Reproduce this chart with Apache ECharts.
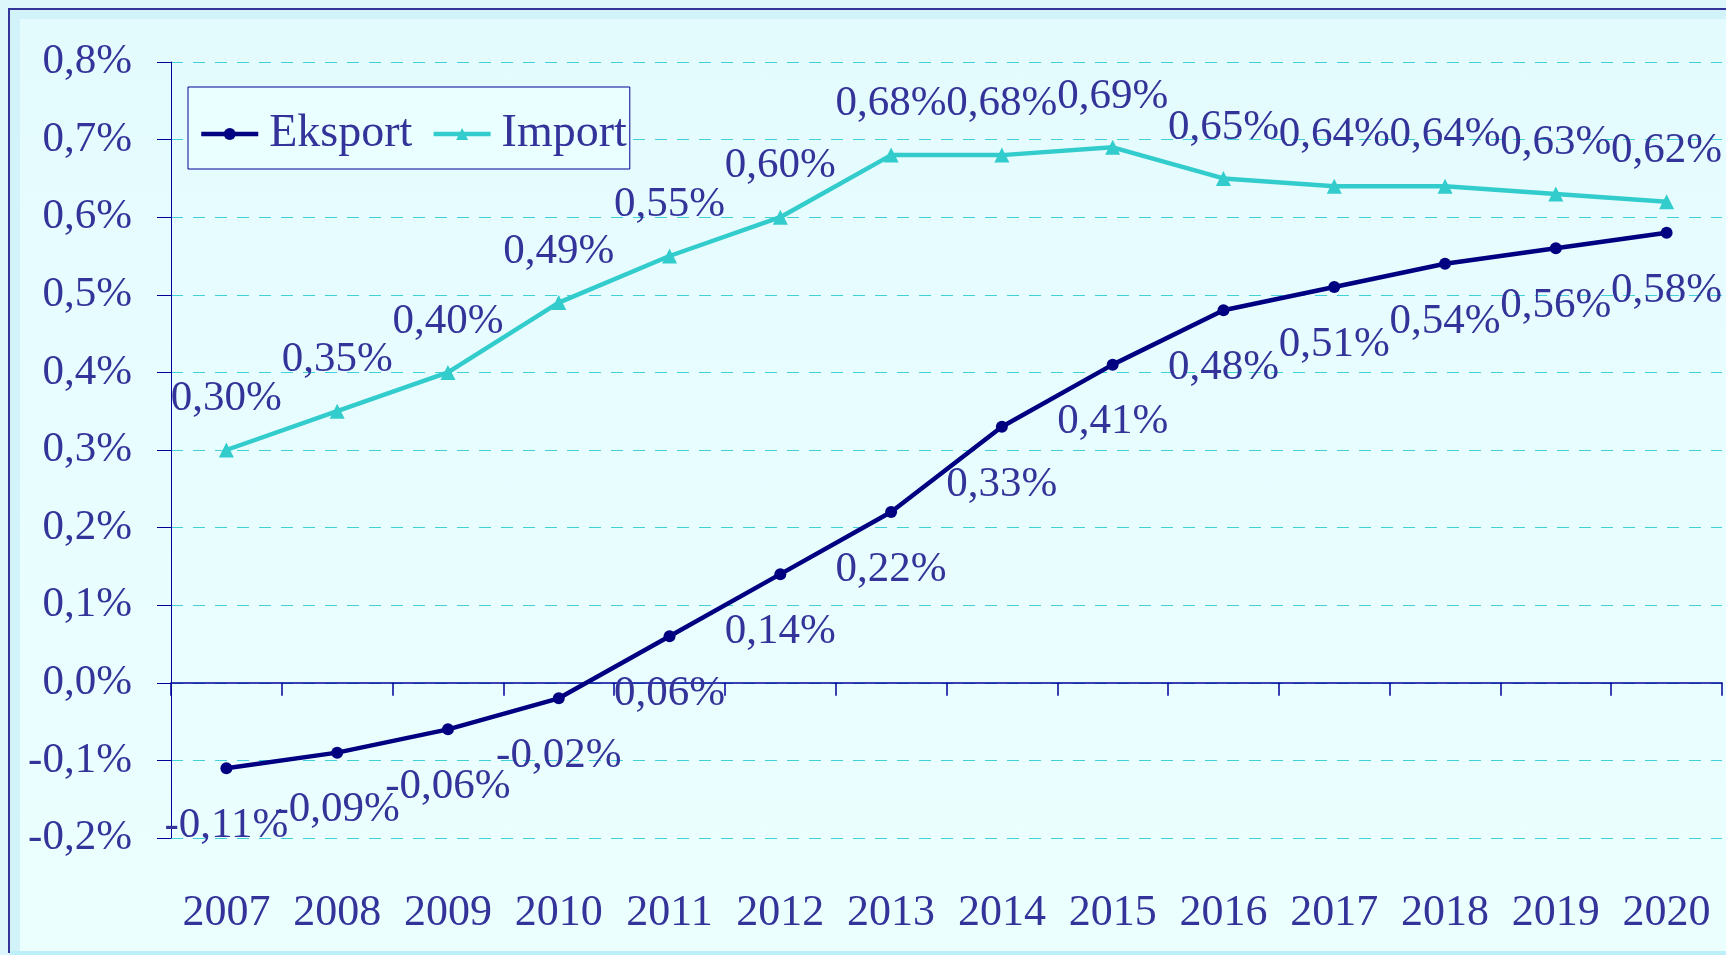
<!DOCTYPE html>
<html>
<head>
<meta charset="utf-8">
<title>Eksport i Import</title>
<script src="https://cdn.jsdelivr.net/npm/echarts@6/dist/echarts.min.js"></script>
<style>
  html, body { margin: 0; padding: 0; width: 1726px; height: 955px; overflow: hidden; background: #dcf6fb; }
  #frame { position: absolute; left: 8px; top: 8px; width: 1730px; height: 943px;
           border-left: 2px solid #333399; border-top: 2px solid #333399; background: #d3f3fa; }
  #panel { position: absolute; left: 20px; top: 19px; width: 1706px; height: 932px;
           background: linear-gradient(to bottom, #e4fbfe, #ecffff); }
  #strip { position: absolute; left: 10px; top: 951px; width: 1716px; height: 4px; background: #bdeff8; }
  #chart { position: absolute; left: 0; top: 0; width: 1726px; height: 955px; }
</style>
</head>
<body>
<div id="frame"></div>
<div id="panel"></div>
<div id="strip"></div>
<div id="chart"></div>
<script>
// Years on the category axis
const years = ['2007', '2008', '2009', '2010', '2011', '2012', '2013',
               '2014', '2015', '2016', '2017', '2018', '2019', '2020'];

// Shares in percent
const eksport = [-0.11, -0.09, -0.06, -0.02, 0.06, 0.14, 0.22,
                 0.33, 0.41, 0.48, 0.51, 0.54, 0.56, 0.58];
const importVals = [0.30, 0.35, 0.40, 0.49, 0.55, 0.60, 0.68,
                    0.68, 0.69, 0.65, 0.64, 0.64, 0.63, 0.62];

// Value axis ticks
const yTicks = [-0.2, -0.1, 0.0, 0.1, 0.2, 0.3, 0.4, 0.5, 0.6, 0.7, 0.8];

const FONT = "'Liberation Serif', 'Times New Roman', serif";
const TEXT = '#333399';
const NAVY = '#000080';
const TEAL = '#33cccc';

const pct1 = v => v.toFixed(1).replace('.', ',') + '%';
const pct2 = v => v.toFixed(2).replace('.', ',') + '%';

const chart = echarts.init(document.getElementById('chart'), null, { renderer: 'canvas' });

chart.setOption({
  backgroundColor: 'transparent',
  animation: false,
  textStyle: { fontFamily: FONT },
  grid: { left: 171, right: 4, top: 62, bottom: 117, containLabel: false },
  legend: {
    data: ['Eksport', 'Import'],
    left: 188,
    top: 87,
    orient: 'horizontal',
    padding: [21, 3, 9, 11],
    itemGap: 19,
    itemWidth: 57,
    itemHeight: 15,
    backgroundColor: '#eaffff',
    borderColor: '#000099',
    borderWidth: 1,
    lineStyle: { width: 4.5 },
    textStyle: { fontFamily: FONT, fontSize: 46, color: TEXT, lineHeight: 50, padding: [2, 0, 0, 6] }
  },
  xAxis: [
    {
      type: 'category',
      data: years,
      position: 'bottom',
      boundaryGap: true,
      axisLine: { show: false, onZero: false },
      axisTick: { show: false },
      axisLabel: { margin: 53, fontFamily: FONT, fontSize: 44, color: TEXT, interval: 0 },
      splitLine: { show: false }
    },
    {
      type: 'category',
      data: years,
      position: 'top',
      boundaryGap: true,
      axisLine: { show: true, onZero: true, lineStyle: { color: '#000099', width: 1.5 } },
      axisTick: { show: true, inside: true, length: 13, interval: 0, lineStyle: { color: '#000099', width: 1.5 } },
      axisLabel: { show: false },
      splitLine: { show: false }
    }
  ],
  yAxis: {
    type: 'value',
    min: yTicks[0],
    max: yTicks[yTicks.length - 1],
    interval: 0.1,
    axisLine: { show: true, lineStyle: { color: '#000099', width: 1 } },
    axisTick: { show: true, length: 14, lineStyle: { color: '#000099', width: 1 } },
    axisLabel: { margin: 39, fontFamily: FONT, fontSize: 43, color: TEXT, formatter: v => pct1(v) },
    splitLine: { show: true, lineStyle: { color: '#40d2d8', width: 1, type: [12, 10] } }
  },
  series: [
    {
      name: 'Eksport',
      type: 'line',
      data: eksport,
      xAxisIndex: 0,
      symbol: 'circle',
      symbolSize: 12,
      showAllSymbol: true,
      lineStyle: { color: NAVY, width: 4.5 },
      itemStyle: { color: NAVY },
      label: {
        show: true,
        position: 'bottom',
        distance: 30,
        fontFamily: FONT,
        fontSize: 43,
        color: TEXT,
        formatter: p => pct2(p.value)
      },
      z: 3
    },
    {
      name: 'Import',
      type: 'line',
      data: importVals,
      xAxisIndex: 0,
      symbol: 'triangle',
      symbolSize: 15,
      showAllSymbol: true,
      lineStyle: { color: TEAL, width: 4.5 },
      itemStyle: { color: TEAL },
      label: {
        show: true,
        position: 'top',
        distance: 22,
        fontFamily: FONT,
        fontSize: 43,
        color: TEXT,
        formatter: p => pct2(p.value)
      },
      z: 3
    }
  ]
});
</script>
</body>
</html>
